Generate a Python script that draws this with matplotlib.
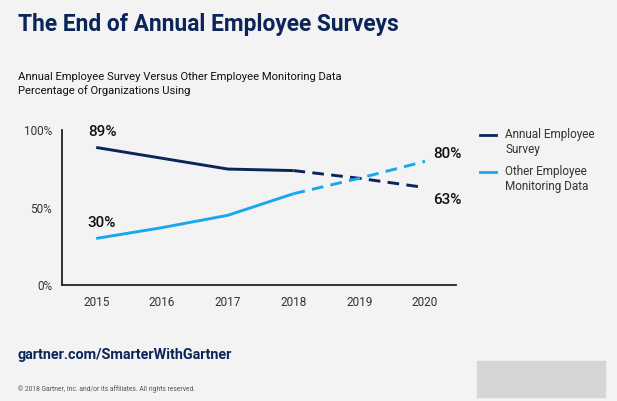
import numpy as np
import matplotlib.pyplot as plt

years = [2015, 2016, 2017, 2018, 2019, 2020]
annual_survey = [89, 82, 75, 74, 69, 63]
other_monitoring = [30, 37, 45, 59, 69, 80]
y_ticks = [0, 50, 100]
y_tick_labels = ['0%', '50%', '100%']

navy = '#0b2559'
light = '#1aa7ec'
bg = '#f3f3f3'

plt.rcParams['font.family'] = ['Roboto', 'DejaVu Sans']

fig = plt.figure(figsize=(6.17, 4.01), dpi=100, facecolor=bg)
ax = fig.add_axes([0.1005, 0.290, 0.6385, 0.3846], facecolor=bg)

# solid up to 2018, dashed projection afterwards
ax.plot(years[:4], annual_survey[:4], color=navy, lw=2.1, solid_capstyle='butt')
ax.plot(years[3:], annual_survey[3:], color=navy, lw=2.1, dashes=(4, 2.5))
ax.plot(years[:4], other_monitoring[:4], color=light, lw=2.1, solid_capstyle='butt')
ax.plot(years[3:], other_monitoring[3:], color=light, lw=2.1, dashes=(4, 2.5))

ax.set_xlim(2014.48, 2020.47)
ax.set_ylim(0, 100)
ax.set_xticks(years)
ax.set_xticklabels([str(y) for y in years])
ax.set_yticks(y_ticks)
ax.set_yticklabels(y_tick_labels)
ax.tick_params(length=0, labelsize=8.5, colors='#333333', pad=8)
ax.tick_params(axis='y', pad=7)
for s in ['top', 'right']:
    ax.spines[s].set_visible(False)
for s in ['left', 'bottom']:
    ax.spines[s].set_color('#222222')
    ax.spines[s].set_linewidth(1.3)

# value labels
lab = dict(textcoords='offset points', fontsize=11, fontweight='medium', color='#111111')
ax.annotate(f'{annual_survey[0]}%', (years[0], annual_survey[0]), xytext=(-6, 8), **lab)
ax.annotate(f'{other_monitoring[0]}%', (years[0], other_monitoring[0]), xytext=(-6, 8), **lab)
ax.annotate(f'{other_monitoring[-1]}%', (years[-1], other_monitoring[-1]), xytext=(6, 5),
            va='center', **lab)
ax.annotate(f'{annual_survey[-1]}%', (years[-1], annual_survey[-1]), xytext=(6, -9),
            va='center', **lab)

# legend
fig.lines.append(plt.Line2D([480 / 617, 496 / 617], [1 - 135 / 401] * 2, color=navy, lw=2,
                            transform=fig.transFigure))
fig.lines.append(plt.Line2D([480 / 617, 496 / 617], [1 - 172 / 401] * 2, color=light, lw=2,
                            transform=fig.transFigure))
fig.text(505 / 617, 1 - 142 / 401, 'Annual Employee\nSurvey', fontsize=8.5, color='#333333',
         va='center', linespacing=1.2)
fig.text(505 / 617, 1 - 179 / 401, 'Other Employee\nMonitoring Data', fontsize=8.5, color='#333333',
         va='center', linespacing=1.2)

# titles
fig.text(18 / 617, 1 - 24 / 401, 'The End of Annual Employee Surveys', fontsize=16.4,
         fontweight='bold', color=navy, va='center')
fig.text(18 / 617, 1 - 84 / 401, 'Annual Employee Survey Versus Other Employee Monitoring Data\nPercentage of Organizations Using',
         fontsize=8.1, color='#111111', va='center', linespacing=1.35)

# footer
fig.text(18 / 617, 1 - 355 / 401, 'gartner.com/SmarterWithGartner', fontsize=10.4,
         fontweight='bold', color=navy, va='center')
fig.text(18 / 617, 1 - 389 / 401, '\u00a9 2018 Gartner, Inc. and/or its affiliates. All rights reserved.',
         fontsize=4.9, color='#555555', va='center')
fig.patches.append(plt.Rectangle((477 / 617, 1 - 397 / 401), 128 / 617, 36 / 401,
                                 color='#d6d6d6', transform=fig.transFigure))

fig.savefig('out.png', dpi=100, facecolor=bg)
